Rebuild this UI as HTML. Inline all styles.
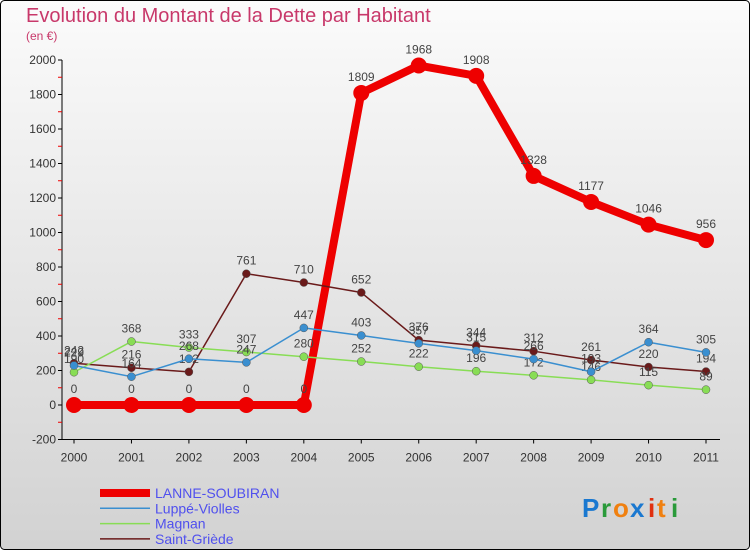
<!DOCTYPE html>
<html><head><meta charset="utf-8"><style>
html,body{margin:0;padding:0;width:750px;height:550px;overflow:hidden;font-family:"Liberation Sans",sans-serif}
svg{display:block}
</style></head><body>
<svg id="chart" width="750" height="550" xmlns="http://www.w3.org/2000/svg">
<defs><linearGradient id="bg" x1="0" y1="0" x2="0" y2="1"><stop offset="0" stop-color="#fbfbfb"/><stop offset="1" stop-color="#d2d2d2"/></linearGradient></defs>
<rect x="0.5" y="0.5" width="749" height="549" rx="4" fill="url(#bg)" stroke="#000"/>
<text x="26" y="22" font-size="20" fill="#c8386a">Evolution du Montant de la Dette par Habitant</text>
<text x="26" y="40" font-size="12" fill="#c8386a">(en €)</text>
<g id="axes"></g><g id="series"></g><g id="legend"></g>
<g font-size="26" font-weight="bold">
<text x="582" y="517" fill="#1a78d0">P</text><text x="601" y="517" fill="#2a9a3a">r</text><text x="613" y="517" fill="#f08010">o</text><text x="630" y="517" fill="#1a78d0">x</text><text x="648" y="517" fill="#e03010">i</text><text x="657" y="517" fill="#f08010">t</text><text x="671" y="517" fill="#2a9a3a">i</text>
</g>
</svg>
<script>
const years=["2000","2001","2002","2003","2004","2005","2006","2007","2008","2009","2010","2011"];
const lanne=[0,0,0,0,0,1809,1968,1908,1328,1177,1046,956];
const luppe=[229,164,268,247,447,403,357,315,266,193,364,305];
const magnan=[190,368,333,307,280,252,222,196,172,146,115,89];
const stgriede=[242,216,192,761,710,652,376,344,312,261,220,194];
const yTicks=[-200,0,200,400,600,800,1000,1200,1400,1600,1800,2000];
const NS="http://www.w3.org/2000/svg";
const X=i=>74+i*(706-74)/(years.length-1);
const Y=v=>405-v*(405-60)/2000;
function mk(tag,attrs,parent,text){const e=document.createElementNS(NS,tag);for(const k in attrs)e.setAttribute(k,attrs[k]);if(text!==undefined)e.textContent=text;parent.appendChild(e);return e;}
const ax=document.getElementById('axes');
let a=mk('line',{x1:62,y1:Y(-200),x2:62,y2:Y(2000),stroke:'#000'},ax);


a=mk('line',{x1:62,y1:Y(-200),x2:720,y2:Y(-200),stroke:'#000'},ax);


yTicks.forEach(v=>{mk('line',{x1:58,x2:62,y1:Y(v),y2:Y(v),stroke:'#000'},ax);
if(v<2000)mk('line',{x1:58,x2:62,y1:Y(v+100),y2:Y(v+100),stroke:'#e00'},ax);
const t=mk('text',{x:56,y:Y(v)+4,'font-size':12,'text-anchor':'end',fill:'#333'},ax,String(v));

});
years.forEach((y,i)=>{mk('line',{x1:X(i),x2:X(i),y1:Y(-200),y2:Y(-200)+4,stroke:'#000'},ax);
const t=mk('text',{x:X(i),y:Y(-200)+22,'font-size':12,'text-anchor':'middle',fill:'#333'},ax,y);

});
const sg=document.getElementById('series');
const series=[
 {name:'Luppé-Violles',data:luppe,color:'#3a8fd0',w:1.5,r:4},
 {name:'Magnan',data:magnan,color:'#88dd55',w:1.5,r:4},
 {name:'Saint-Griède',data:stgriede,color:'#6a1a1a',w:1.5,r:4},
 {name:'LANNE-SOUBIRAN',data:lanne,color:'#ee0000',w:8,r:8}];
series.slice().reverse().forEach(s=>{
 const g=mk('g',{},sg);
 
 
 mk('polyline',{points:s.data.map((v,i)=>X(i)+','+Y(v)).join(' '),fill:'none',stroke:s.color,'stroke-width':s.w,'stroke-linejoin':'round'},g);
 s.data.forEach((v,i)=>{const c=mk('circle',{cx:X(i),cy:Y(v),r:s.r,fill:s.color,stroke:s.w>2?'none':'#555','stroke-width':0.5},g);
 
 
 const t=mk('text',{x:X(i),y:Y(v)-(s.w>2?12:9),'font-size':12,'text-anchor':'middle',fill:'#444'},g,String(v));
 
 });
});
const lg=document.getElementById('legend');
[series[3],series[0],series[1],series[2]].forEach((s,k)=>{const y=493+k*15.3;
 const g=mk('g',{},lg);
 
 
 mk('line',{x1:100,x2:150,y1:y,y2:y,stroke:s.color,'stroke-width':s.w},g);
 mk('text',{x:155,y:y+5,'font-size':14,fill:'#5050ee'},g,s.name);});
</script>
</body></html>
